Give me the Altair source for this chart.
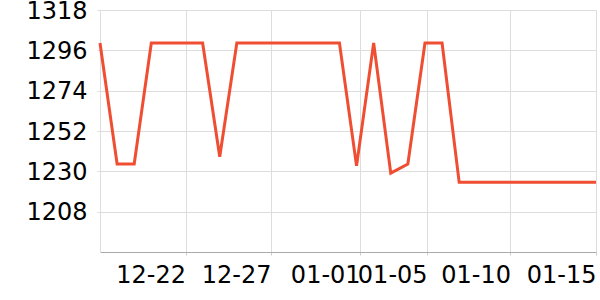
import altair as alt
import pandas as pd

dates = [
    "2023-12-17", "2023-12-18", "2023-12-19", "2023-12-20", "2023-12-21",
    "2023-12-22", "2023-12-23", "2023-12-24", "2023-12-25", "2023-12-26",
    "2023-12-27", "2023-12-28", "2023-12-29", "2023-12-30", "2023-12-31",
    "2024-01-01", "2024-01-02", "2024-01-03", "2024-01-04", "2024-01-05",
    "2024-01-06", "2024-01-07", "2024-01-08", "2024-01-09", "2024-01-10",
    "2024-01-11", "2024-01-12", "2024-01-13", "2024-01-14", "2024-01-15",
]
values = [
    1300, 1234, 1234, 1300, 1300,
    1300, 1300, 1238, 1300, 1300,
    1300, 1300, 1300, 1300, 1300,
    1233, 1300, 1229, 1234, 1300,
    1300, 1224, 1224, 1224, 1224,
    1224, 1224, 1224, 1224, 1224,
]
y_ticks = [1208, 1230, 1252, 1274, 1296, 1318]

df = pd.DataFrame({"date": [d + "T00:00:00" for d in dates], "value": values})

x_ticks = [
    alt.DateTime(year=2023, month=12, date=22),
    alt.DateTime(year=2023, month=12, date=27),
    alt.DateTime(year=2024, month=1, date=1, hours=5),
    alt.DateTime(year=2024, month=1, date=5, hours=3),
    alt.DateTime(year=2024, month=1, date=10),
    alt.DateTime(year=2024, month=1, date=15),
]

chart = (
    alt.Chart(df)
    .mark_line(color="#f04e32", strokeWidth=3)
    .encode(
        x=alt.X(
            "date:T",
            title=None,
            scale=alt.Scale(
                domain=[
                    alt.DateTime(year=2023, month=12, date=17),
                    alt.DateTime(year=2024, month=1, date=15),
                ]
            ),
            axis=alt.Axis(
                values=x_ticks,
                format="%m-%d",
                labelOverlap=False,
                labelFlush=False,
                labelAlign="right",
                labelFontSize=24,
                labelFont="DejaVu Sans",
                labelColor="#000000",
                labelPadding=8,
                tickSize=3,
                tickColor="#cccccc",
                domainColor="#aaaaaa",
                gridColor="#dddddd",
            ),
        ),
        y=alt.Y(
            "value:Q",
            title=None,
            scale=alt.Scale(domain=[1186, 1318], nice=False, zero=False),
            axis=alt.Axis(
                values=y_ticks,
                format="d",
                labelFontSize=24,
                labelFont="DejaVu Sans",
                labelColor="#000000",
                labelPadding=10,
                labelOffset=1,
                tickSize=3,
                tickColor="#dddddd",
                domainColor="#dddddd",
                gridColor="#dddddd",
            ),
        ),
    )
    .properties(
        width=496,
        height=242,
        autosize=alt.AutoSizeParams(type="none"),
        padding={"left": 100, "top": 10, "right": 4, "bottom": 48},
    )
    .configure_view(stroke=None)
)

chart.save("out.html", embed_options={"renderer": "svg", "actions": False})
